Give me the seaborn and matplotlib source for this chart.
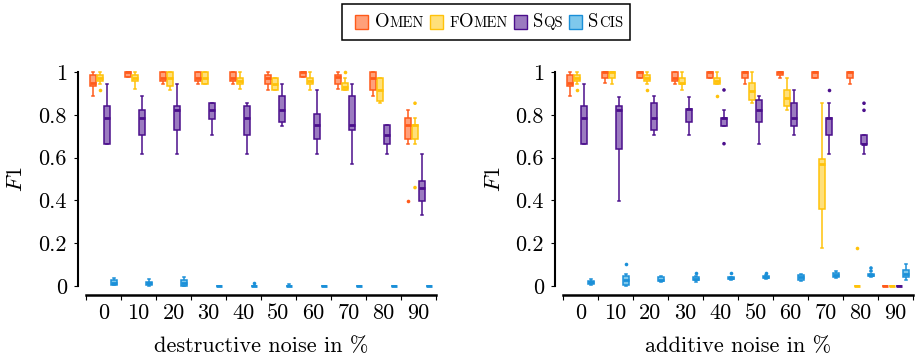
import numpy as np
import pandas as pd
import matplotlib
matplotlib.use("Agg")
import matplotlib.pyplot as plt
import seaborn as sns
from matplotlib.patches import Rectangle
from matplotlib.offsetbox import AnchoredOffsetbox, HPacker, TextArea, DrawingArea

plt.rcParams.update({
    "font.family": "cmr10",
    "mathtext.fontset": "cm",
    "axes.formatter.use_mathtext": True,
    "font.size": 16,
})

noise_levels = [0, 10, 20, 30, 40, 50, 60, 70, 80, 90]
methods = ["Omen", "fOmen", "Sqs", "Scis"]
fill_colors = ["#ffa07a", "#ffe07a", "#9b7bc0", "#7ec8ec"]
edge_colors = ["#ff5a1a", "#ffc20a", "#4b0f8c", "#1a8fd8"]
y_ticks = [0, 0.2, 0.4, 0.6, 0.8, 1.0]
y_tick_labels = ["0", "0.2", "0.4", "0.6", "0.8", "1"]

# Each entry: [lower whisker, Q1, median, Q3, upper whisker] for one noise level.
destructive_omen = [
    [0.890, 0.935, 0.950, 0.985, 1.000],
    [0.975, 0.975, 1.000, 1.000, 1.000],
    [0.944, 0.956, 0.974, 1.000, 1.000],
    [0.944, 0.956, 0.974, 1.000, 1.000],
    [0.944, 0.956, 0.974, 1.000, 1.000],
    [0.916, 0.944, 0.974, 0.984, 1.000],
    [0.975, 0.975, 1.000, 1.000, 1.000],
    [0.922, 0.944, 0.978, 0.984, 1.000],
    [0.886, 0.916, 0.974, 1.000, 1.000],
    [0.665, 0.685, 0.751, 0.787, 0.821],
]
destructive_fomen = [
    [0.944, 0.956, 0.974, 0.984, 1.000],
    [0.922, 0.960, 0.974, 0.984, 1.000],
    [0.916, 0.935, 0.974, 1.000, 1.000],
    [0.944, 0.944, 0.974, 1.000, 1.000],
    [0.922, 0.944, 0.958, 0.974, 1.000],
    [0.916, 0.916, 0.944, 0.974, 0.974],
    [0.916, 0.944, 0.958, 0.974, 1.000],
    [0.916, 0.916, 0.930, 0.947, 0.972],
    [0.854, 0.864, 0.916, 0.974, 0.974],
    [0.665, 0.685, 0.751, 0.751, 0.785],
]
destructive_sqs = [
    [0.665, 0.665, 0.787, 0.840, 0.944],
    [0.618, 0.704, 0.787, 0.821, 0.886],
    [0.618, 0.727, 0.824, 0.840, 0.944],
    [0.707, 0.782, 0.824, 0.857, 0.857],
    [0.618, 0.704, 0.787, 0.840, 0.854],
    [0.748, 0.766, 0.824, 0.886, 0.944],
    [0.618, 0.685, 0.751, 0.802, 0.916],
    [0.569, 0.727, 0.751, 0.886, 0.944],
    [0.618, 0.662, 0.707, 0.751, 0.751],
    [0.330, 0.397, 0.460, 0.491, 0.618],
]
destructive_scis = [
    [0.003, 0.006, 0.015, 0.028, 0.036],
    [0.002, 0.004, 0.012, 0.020, 0.034],
    [0.000, 0.002, 0.014, 0.026, 0.042],
    [0.000, 0.000, 0.000, 0.000, 0.000],
    [0.000, 0.000, 0.000, 0.000, 0.000],
    [0.000, 0.000, 0.000, 0.000, 0.010],
    [0.000, 0.000, 0.000, 0.000, 0.000],
    [0.000, 0.000, 0.000, 0.000, 0.000],
    [0.000, 0.000, 0.000, 0.000, 0.000],
    [0.000, 0.000, 0.000, 0.000, 0.000],
]
# Outliers as (noise level, F1)
destructive_omen_fliers = [(90, 0.397)]
destructive_fomen_fliers = [(0, 0.916), (70, 1.000), (90, 0.854), (90, 0.460)]
destructive_sqs_fliers = []
destructive_scis_fliers = [(40, 0.012)]

additive_omen = [
    [0.890, 0.935, 0.950, 0.985, 1.000],
    [0.947, 0.972, 1.000, 1.000, 1.000],
    [0.972, 0.972, 1.000, 1.000, 1.000],
    [0.944, 0.956, 0.974, 1.000, 1.000],
    [0.972, 0.972, 1.000, 1.000, 1.000],
    [0.944, 0.972, 1.000, 1.000, 1.000],
    [0.972, 0.984, 1.000, 1.000, 1.000],
    [0.972, 0.972, 1.000, 1.000, 1.000],
    [0.944, 0.972, 1.000, 1.000, 1.000],
    [0.000, 0.000, 0.000, 0.000, 0.000],
]
additive_fomen = [
    [0.944, 0.956, 0.974, 0.984, 1.000],
    [0.944, 0.972, 1.000, 1.000, 1.000],
    [0.944, 0.956, 0.974, 0.984, 1.000],
    [0.916, 0.944, 0.950, 0.974, 1.000],
    [0.944, 0.944, 0.958, 0.974, 1.000],
    [0.854, 0.871, 0.910, 0.947, 1.000],
    [0.821, 0.840, 0.880, 0.916, 0.972],
    [0.179, 0.358, 0.572, 0.595, 0.854],
    [0.000, 0.000, 0.000, 0.000, 0.000],
    [0.000, 0.000, 0.000, 0.000, 0.000],
]
additive_sqs = [
    [0.665, 0.665, 0.787, 0.840, 0.944],
    [0.399, 0.639, 0.822, 0.840, 0.885],
    [0.707, 0.727, 0.787, 0.857, 0.886],
    [0.706, 0.766, 0.827, 0.827, 0.885],
    [0.748, 0.748, 0.785, 0.787, 0.821],
    [0.665, 0.766, 0.824, 0.871, 0.886],
    [0.707, 0.748, 0.787, 0.854, 0.916],
    [0.618, 0.704, 0.787, 0.787, 0.854],
    [0.618, 0.665, 0.665, 0.707, 0.707],
    [0.000, 0.000, 0.000, 0.000, 0.000],
]
additive_scis = [
    [0.005, 0.010, 0.018, 0.025, 0.033],
    [0.000, 0.005, 0.026, 0.048, 0.056],
    [0.017, 0.022, 0.030, 0.040, 0.048],
    [0.020, 0.026, 0.034, 0.043, 0.046],
    [0.028, 0.032, 0.036, 0.042, 0.044],
    [0.034, 0.038, 0.042, 0.048, 0.050],
    [0.022, 0.028, 0.040, 0.050, 0.054],
    [0.038, 0.042, 0.050, 0.060, 0.068],
    [0.040, 0.046, 0.050, 0.056, 0.058],
    [0.026, 0.042, 0.055, 0.073, 0.104],
]
additive_omen_fliers = []
additive_fomen_fliers = [(0, 0.916), (20, 0.916), (40, 0.886), (80, 0.179)]
additive_sqs_fliers = [(40, 0.916), (40, 0.665), (70, 0.916), (80, 0.854), (80, 0.821)]
additive_scis_fliers = [(10, 0.103), (30, 0.061), (40, 0.062), (50, 0.062), (80, 0.070), (80, 0.084)]


def box_frame(series):
    rows = []
    for method, stats in zip(methods, series):
        for level, five in zip(noise_levels, stats):
            for value in five:
                rows.append((level, method, value))
    return pd.DataFrame(rows, columns=["noise", "method", "F1"])


def flier_frame(series):
    rows = [(lvl, m, v) for m, pts in zip(methods, series) for lvl, v in pts]
    return pd.DataFrame(rows, columns=["noise", "method", "F1"])


W, H = 915, 359
fig = plt.figure(figsize=(W / 100, H / 100), dpi=100)
y_lo, y_hi = -0.015, 1.015
px_per_unit = 214
top_px = 72 - (y_hi - 1) * px_per_unit
bot_px = 286 - y_lo * px_per_unit


def add_axes(left_px, right_px):
    return fig.add_axes([left_px / W, 1 - bot_px / H,
                         (right_px - left_px) / W, (bot_px - top_px) / H])


def draw_panel(ax, boxes, fliers, xlabel):
    face_map = dict(zip(methods, fill_colors))
    edge_map = dict(zip(methods, edge_colors))
    for method in methods:
        sub = boxes[boxes["method"] == method]
        sns.boxplot(data=sub, x="noise", y="F1", hue="method",
                    order=noise_levels, hue_order=methods, palette=face_map,
                    saturation=1, dodge=True, width=0.8, gap=0.25,
                    whis=(0, 100), showfliers=False,
                    linecolor=edge_map[method], linewidth=1.1,
                    medianprops=dict(linewidth=2.0),
                    legend=False, ax=ax)
        pts = fliers[fliers["method"] == method]
        if len(pts):
            sns.stripplot(data=pts, x="noise", y="F1", hue="method",
                          order=noise_levels, hue_order=methods,
                          palette=edge_map, dodge=True, jitter=False,
                          size=2.6, linewidth=0, legend=False, ax=ax)

    ax.set_xlim(-0.5, 9.5)
    ax.set_ylim(y_lo, y_hi)
    ax.set_yticks(y_ticks, labels=y_tick_labels)
    ax.set_xticks(np.arange(-0.5, 10, 1), labels=[""] * 11)
    ax.set_xticks(np.arange(10), labels=[str(v) for v in noise_levels], minor=True)
    ax.tick_params(axis="x", which="major", length=3.6, width=0.8, direction="out")
    ax.tick_params(axis="x", which="minor", length=0, pad=6)
    ax.tick_params(axis="y", length=3.2, width=0.8, direction="out", pad=4.5)
    for side in ("top", "right"):
        ax.spines[side].set_visible(False)
    ax.spines["left"].set_bounds(0, 1)
    ax.spines["left"].set_position(("outward", 6))
    ax.spines["left"].set_linewidth(1.5)
    ax.spines["bottom"].set_bounds(-0.5, 9.5)
    ax.spines["bottom"].set_position(("outward", 4.2))
    ax.spines["bottom"].set_linewidth(1.8)
    ax.set_xlabel(xlabel, labelpad=10)
    ax.set_ylabel(r"$F1$")
    ax.yaxis.set_label_coords(-0.17, 0.5)


ax_left = add_axes(86, 436)
ax_right = add_axes(563, 913)

draw_panel(ax_left,
           box_frame([destructive_omen, destructive_fomen, destructive_sqs, destructive_scis]),
           flier_frame([destructive_omen_fliers, destructive_fomen_fliers,
                        destructive_sqs_fliers, destructive_scis_fliers]),
           "destructive noise in %")
draw_panel(ax_right,
           box_frame([additive_omen, additive_fomen, additive_sqs, additive_scis]),
           flier_frame([additive_omen_fliers, additive_fomen_fliers,
                        additive_sqs_fliers, additive_scis_fliers]),
           "additive noise in %")

# Legend with small-capital method names
big, small = 13.5, 10.5
legend_parts = [
    [("O", big), ("MEN", small)],
    [("F", small), ("O", big), ("MEN", small)],
    [("S", big), ("QS", small)],
    [("S", big), ("CIS", small)],
]
entries = []
for parts, face, edge in zip(legend_parts, fill_colors, edge_colors):
    swatch = DrawingArea(9.4, 9.4, 0, 0)
    swatch.add_artist(Rectangle((0, 0), 9.4, 9.4, facecolor=face,
                                edgecolor=edge, linewidth=1.0))
    label = HPacker(children=[TextArea(t, textprops=dict(fontsize=s)) for t, s in parts],
                    align="baseline", pad=0, sep=0)
    entries.append(HPacker(children=[swatch, label], align="center", pad=0, sep=4.5))
spacer = DrawingArea(0, 16, 0, 0)
row = HPacker(children=[spacer] + entries, align="center", pad=0, sep=4.5)
legend_box = AnchoredOffsetbox(loc="center", child=row, pad=0.5, borderpad=0,
                               frameon=True, prop=dict(size=10),
                               bbox_to_anchor=(486 / W, 1 - 22 / H),
                               bbox_transform=fig.transFigure)
legend_box.patch.set_boxstyle("square", pad=0)
legend_box.patch.set_edgecolor("black")
legend_box.patch.set_linewidth(1.1)
ax_left.add_artist(legend_box)

fig.savefig("out.png", dpi=100)
